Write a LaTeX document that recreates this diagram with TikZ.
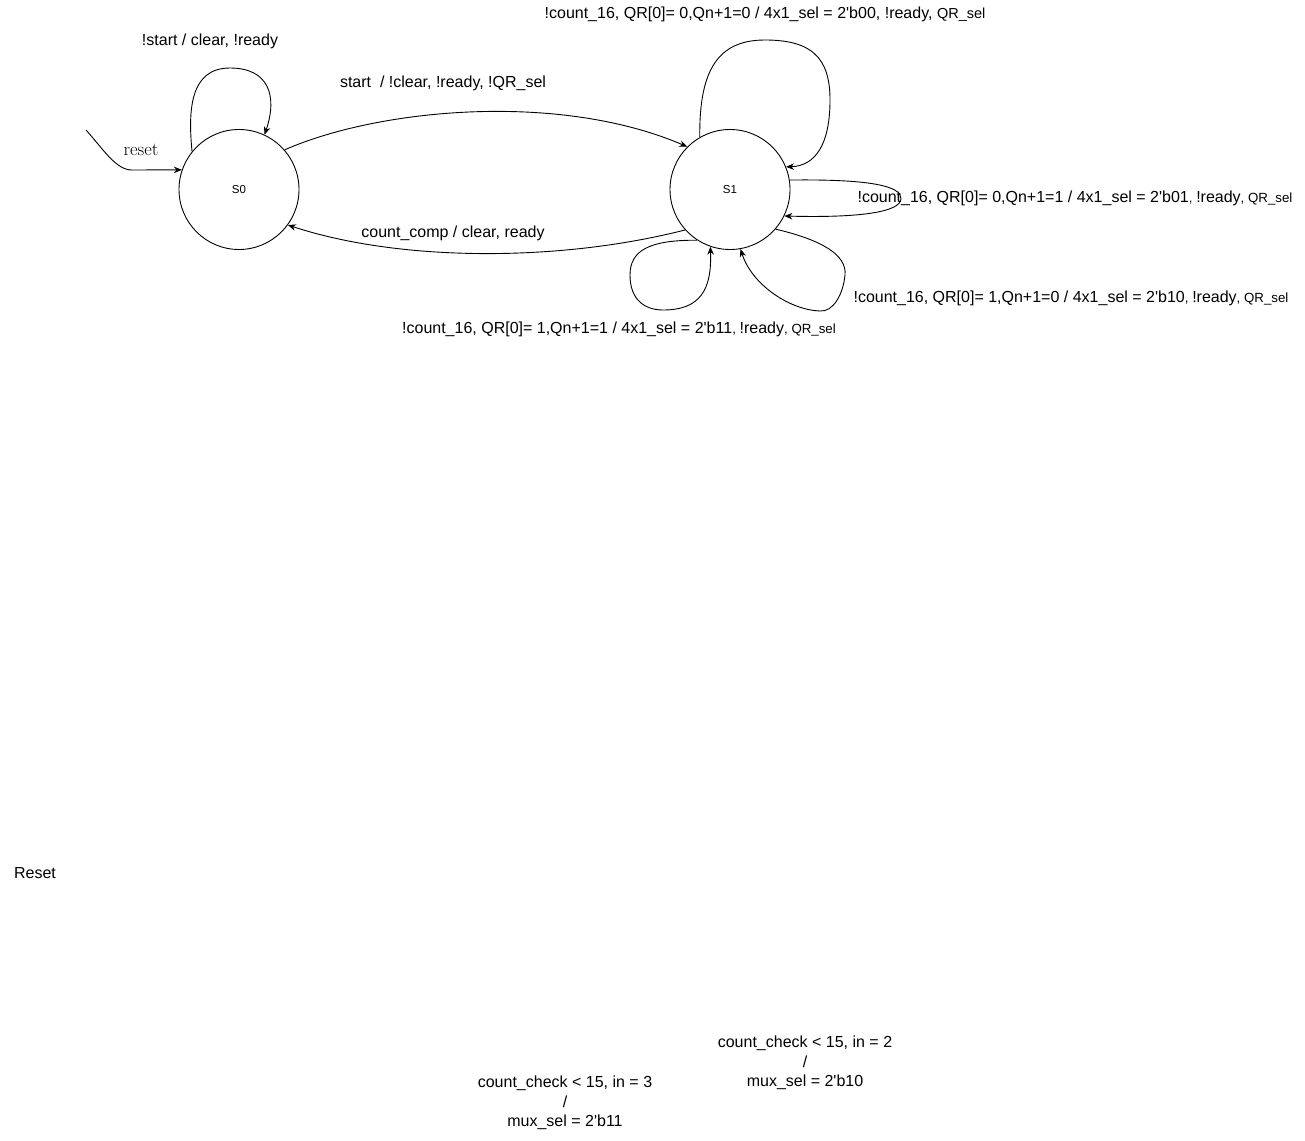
\documentclass[tikz,border=0pt]{standalone}
\usepackage{fontspec}
\setmainfont{Liberation Sans}
\newfontfamily\lmserif{Latin Modern Roman}
\usetikzlibrary{arrows.meta}
\newcommand\qt{\textquotesingle}
\newcommand\smtxt[1]{{\fontsize{13.3}{15}\selectfont #1}}
\begin{document}
\begin{tikzpicture}[x=1pt,y=-1pt,
  state/.style={draw, circle, minimum size=120pt, inner sep=0pt, line width=0.9pt,
    font=\fontsize{11.5}{13}\selectfont},
  lbl/.style={inner sep=0pt, font=\fontsize{16}{19.3}\selectfont, align=center},
  edge/.style={line width=0.9pt, -{Stealth[length=8pt,width=6.5pt]}}]
\useasboundingbox (0,0) rectangle (1305,1140);
\fill[white] (0,0) rectangle (1305,1140);

% states
\node[state] (S0) at (239,189.5) {S0};
\node[state] (S1) at (730,189.5) {S1};

% reset entry
\coordinate (rst) at (86,130);
\draw[edge] (rst) .. controls (104,150) and (116,170) .. (132,170) -- (S0.161);
\node[inner sep=0pt, font=\lmserif\fontsize{18.5}{21}\selectfont] (lreset) at (141,150) {reset};

% S0 self loop
\draw[edge] (S0.141) .. controls (188,110) and (190,68) .. (230,68)
  .. controls (268,68) and (278,95) .. (S0.65);
\node[lbl] (l00) at (210,41) {!start / clear, !ready};

% S0 -> S1
\draw[edge] (S0.41) .. controls (380,108) and (560,92) .. (S1.135);
\node[lbl] (l01) at (443,83) {start\ \ / !clear, !ready, !QR\_sel};

% S1 -> S0
\draw[edge] (S1.222) .. controls (560,262) and (400,262) .. (S0.324);
\node[lbl] (l10) at (453,233) {count\_comp / clear, ready};

% S1 top loop
\draw[edge] (S1.120) .. controls (699,70) and (718,40) .. (765,40)
  .. controls (812,40) and (830,58) .. (830,100)
  .. controls (830,145) and (815,166) .. (S1.22);
\node[lbl] (l11a) at (765,14) {!count\_16, QR[0]= 0,Qn+1=0 / 4x1\_sel = 2\qt b00, !ready, {\fontsize{14.5}{16}\selectfont QR\_sel}};

% S1 right loop
\draw[edge] (S1.9) .. controls (870,179) and (902,186) .. (901,199)
  .. controls (900,212) and (860,218) .. (S1.-26);
\node[lbl] (l11b) at (1075,198) {!count\_16, QR[0]= 0,Qn+1=1 / 4x1\_sel = 2\qt b01\smtxt{, }!ready\smtxt{, QR\_sel}};

% S1 lower right loop
\draw[edge] (S1.-41) .. controls (822,240) and (847,255) .. (845,275)
  .. controls (843,295) and (833,312) .. (820,311)
  .. controls (790,310) and (752,285) .. (S1.-80);
\node[lbl] (l11c) at (1071,298) {!count\_16, QR[0]= 1,Qn+1=0 / 4x1\_sel = 2\qt b10\smtxt{, }!ready\smtxt{, QR\_sel}};

% S1 lower left loop
\draw[edge] (S1.237) .. controls (650,240) and (630,250) .. (630,275)
  .. controls (630,300) and (645,310) .. (663,310)
  .. controls (700,310) and (712,290) .. (S1.251);
\node[lbl] (l11d) at (619,329) {!count\_16, QR[0]= 1,Qn+1=1 / 4x1\_sel = 2\qt b11\smtxt{, }!ready\smtxt{, QR\_sel}};

% loose texts
\node[lbl] (treset) at (35,873) {Reset};
\node[lbl] (tin3) at (565,1103) {count\_check < 15, in = 3\\/\\mux\_sel = 2\qt b11};
\node[lbl] (tin2) at (805,1063) {count\_check < 15, in = 2\\/\\mux\_sel = 2\qt b10};
\end{tikzpicture}
\end{document}
